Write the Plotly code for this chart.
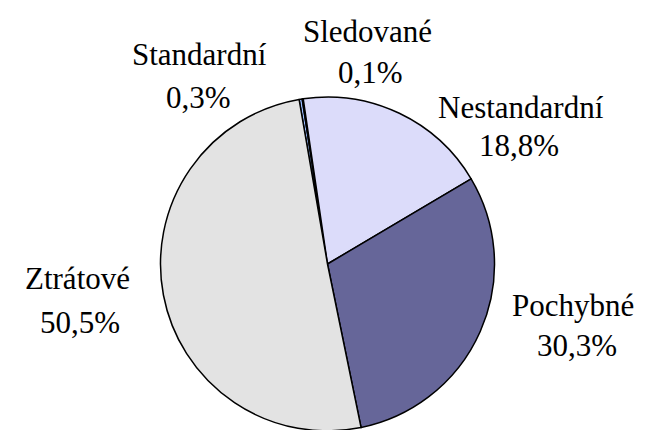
import plotly.graph_objects as go

labels = ["Standardní", "Sledované", "Nestandardní", "Pochybné", "Ztrátové"]
values = [0.3, 0.1, 18.8, 30.3, 50.5]
colors = ["#99BBFF", "#FFFFFF", "#DCDCFA", "#666699", "#E3E3E3"]

W, H = 653, 430
OFF = 8  # page body margin offset
# label anchor positions in screen pixels (centre of each line)
name_pos = [(199, 54), (367, 31), (521, 107), (573, 305), (77, 278)]
pct_pos = [(198, 97), (370, 72), (519, 145), (577, 345), (80, 322)]

cx, cy, r = 327.5 - OFF, 264 - OFF, 167

fig = go.Figure(go.Pie(
    labels=labels,
    values=values,
    sort=False,
    direction="clockwise",
    rotation=-9.8,
    marker=dict(colors=colors, line=dict(color="black", width=1.5)),
    textinfo="none",
    hoverinfo="label+percent",
    showlegend=False,
    domain=dict(x=[(cx - r) / W, (cx + r) / W], y=[1 - (cy + r) / H, 1 - (cy - r) / H]),
))

font = dict(family="Liberation Serif", size=31, color="black")
annotations = []
for lab, val, (nx, ny), (px, py) in zip(labels, values, name_pos, pct_pos):
    annotations.append(dict(text=lab, x=(nx - OFF) / W, y=1 - (ny - OFF) / H, xref="paper", yref="paper",
                            showarrow=False, font=font, xanchor="center", yanchor="middle"))
    annotations.append(dict(text=f"{val:.1f}%".replace(".", ","), x=(px - OFF) / W, y=1 - (py - OFF) / H,
                            xref="paper", yref="paper", showarrow=False, font=font,
                            xanchor="center", yanchor="middle"))

fig.update_layout(
    width=W, height=H,
    margin=dict(l=0, r=0, t=0, b=0),
    paper_bgcolor="white",
    plot_bgcolor="white",
    annotations=annotations,
)

fig.write_html("out.html")
